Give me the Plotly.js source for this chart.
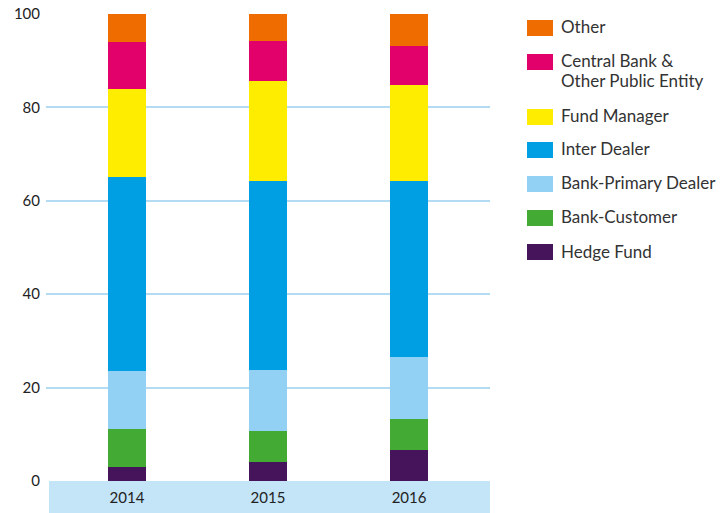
<!DOCTYPE html>
<html>
<head>
<meta charset="utf-8">
<script src="https://cdn.plot.ly/plotly-3.0.1.min.js"></script>
<style>html,body{margin:0;padding:0;background:#fff;}#chart{width:721px;height:513px;}</style>
</head>
<body>
<div id="chart"></div>
<script>
const years = ['2014', '2015', '2016'];
const seriesNames = ['Hedge Fund', 'Bank-Customer', 'Bank-Primary Dealer', 'Inter Dealer', 'Fund Manager', 'Central Bank &<br>Other Public Entity', 'Other'];
const hedgeFund = [3.0, 4.1, 6.6];
const bankCustomer = [8.1, 6.6, 6.7];
const bankPrimaryDealer = [12.5, 13.1, 13.3];
const interDealer = [41.5, 40.4, 37.6];
const fundManager = [18.8, 21.4, 20.6];
const centralBank = [10.1, 8.6, 8.3];
const other = [6.0, 5.8, 6.9];
const yTicks = [0, 20, 40, 60, 80, 100];

const seriesValues = [hedgeFund, bankCustomer, bankPrimaryDealer, interDealer, fundManager, centralBank, other];
const colors = ['#45145a', '#43aa34', '#93d1f4', '#009fe3', '#ffed00', '#e2006a', '#ee6c00'];

const W = 721, H = 513;
const mL = 46, mR = 231, mT = 14, mB = 32;
const pw = W - mL - mR, ph = H - mT - mB;
const px = x => (x - mL) / pw;
const py = y => (H - mB - y) / ph;

const traces = seriesValues.map((vals, i) => ({
  type: 'bar',
  x: years,
  y: vals,
  name: seriesNames[i],
  marker: {color: colors[i], line: {width: 0}},
  width: 0.27,
  hoverinfo: 'skip',
  showlegend: false
}));

// custom legend (top to bottom: Other ... Hedge Fund)
const shapes = [{
  type: 'rect', xref: 'paper', yref: 'paper',
  x0: px(49), x1: 1, y0: py(513), y1: 0,
  fillcolor: '#c4e4f7', line: {width: 0}, layer: 'below'
}];
const annotations = [];
const swatchCenters = [28, 62, 117, 150, 184, 218, 252];
const legendOrder = [6, 5, 4, 3, 2, 1, 0];
legendOrder.forEach((si, k) => {
  const c = swatchCenters[k];
  shapes.push({
    type: 'rect', xref: 'paper', yref: 'paper',
    x0: px(527), x1: px(553), y0: py(c + 8), y1: py(c - 8),
    fillcolor: colors[si], line: {width: 0}
  });
  const lines = seriesNames[si].split('<br>');
  lines.forEach((ln, j) => {
    annotations.push({
      xref: 'paper', yref: 'paper',
      x: px(559), y: py(c - 1 + j * 20),
      xanchor: 'left', yanchor: 'middle', align: 'left',
      text: ln, showarrow: false,
      font: {family: 'Lato, sans-serif', size: 17, color: '#333333'}
    });
  });
});

const layout = {
  width: W, height: H,
  margin: {l: mL, r: mR, t: mT, b: mB, pad: 0},
  barmode: 'stack',
  paper_bgcolor: '#ffffff', plot_bgcolor: '#ffffff',
  showlegend: false,
  hovermode: false,
  xaxis: {
    type: 'category',
    range: [-0.574, 2.574],
    showgrid: false, zeroline: false, showline: false,
    ticks: '', ticklabelstandoff: 6,
    tickfont: {family: 'Lato, sans-serif', size: 15, color: '#222222'},
    fixedrange: true
  },
  yaxis: {
    range: [0, 100],
    tickvals: yTicks,
    ticktext: yTicks.map(String),
    showgrid: true, gridcolor: '#b3dcf2', gridwidth: 2,
    zeroline: false, showline: false,
    ticks: '', ticklabelstandoff: 5,
    tickfont: {family: 'Lato, sans-serif', size: 15, color: '#222222'},
    fixedrange: true
  },
  shapes: shapes,
  annotations: annotations
};

Plotly.newPlot('chart', traces, layout, {displayModeBar: false, staticPlot: true});
</script>
</body>
</html>
